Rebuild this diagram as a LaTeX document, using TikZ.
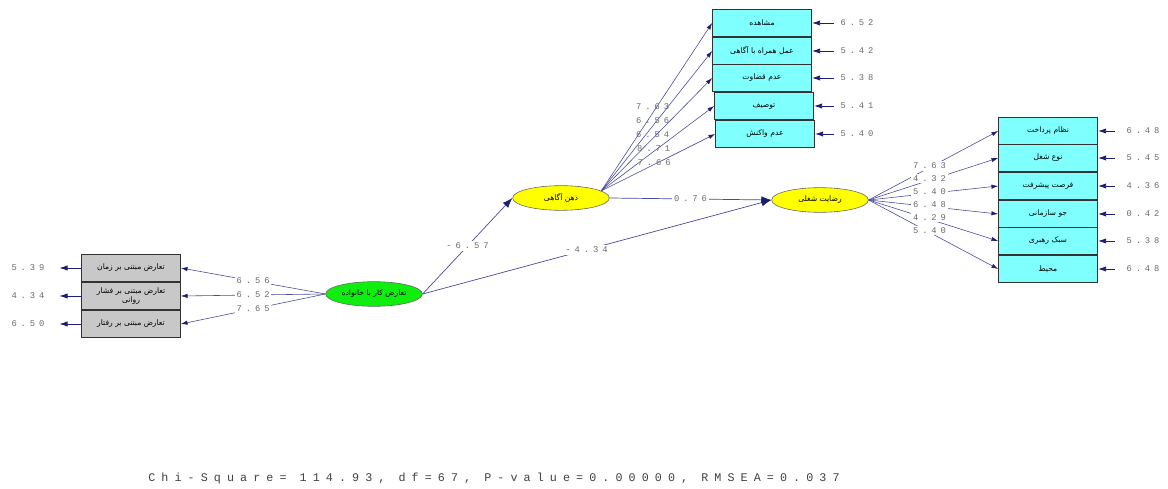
\documentclass[tikz,border=0pt]{standalone}
\usepackage{fontspec}
\usetikzlibrary{arrows.meta, shapes.geometric}
\TeXXeTstate=1
\newfontfamily\farsi[Script=Arabic]{DejaVu Sans}
\newfontfamily\lisrel[LetterSpace=45]{Liberation Mono}
\newfontfamily\lisrelwide[LetterSpace=52]{Liberation Mono}
\definecolor{pathblue}{HTML}{4A4A9C}
\definecolor{headblue}{HTML}{1E1E6E}
\definecolor{boxgray}{HTML}{C8C8C8}
\definecolor{boxcyan}{HTML}{80FFFF}
\definecolor{latgreen}{HTML}{10EE10}
\definecolor{latyellow}{HTML}{FFFF00}
\definecolor{numgray}{HTML}{6A6A6A}
\newcommand{\fatext}[1]{{\farsi\beginR #1\endR}}
\tikzset{
  obsbox/.style={draw=black!80, line width=0.6pt, minimum width=2.97cm, minimum height=0.83cm,
    inner sep=1pt, align=center, font=\fontsize{6.5}{8}\selectfont},
  latent/.style={ellipse, draw=black!60, line width=0.5pt, minimum width=2.9cm, minimum height=0.74cm,
    inner sep=0pt, font=\fontsize{6.5}{8}\selectfont},
  load/.style={-{Latex[length=2mm, width=1.3mm, color=headblue]}, line width=0.5pt, color=pathblue},
  struct/.style={-{Latex[length=3mm, width=2.2mm, color=headblue]}, line width=0.6pt, color=pathblue},
  err/.style={-{Latex[length=2.5mm, width=1.6mm, color=headblue]}, line width=0.8pt, color=headblue},
  num/.style={font=\lisrel\fontsize{7.5}{9}\selectfont, text=numgray, inner sep=1pt},
  est/.style={num, fill=white, inner sep=1.5pt}
}
\begin{document}
\begin{tikzpicture}[x=0.03cm, y=-0.03cm]
\useasboundingbox (0,0) rectangle (1168,489);
% latent variables
\node[latent, fill=latgreen] (wfc) at (374,294) {\fatext{تعارض کار با خانواده}};
\node[latent, fill=latyellow] (mind) at (561,198) {\fatext{ذهن آگاهی}};
\node[latent, fill=latyellow] (sat) at (820,200) {\fatext{رضایت شغلی}};
% work-family conflict indicators
\foreach \i/\y/\txt/\ld/\er in {1/268/{\fatext{تعارض مبتنی بر زمان}}/6.56/5.39,
  2/296/{\fatext{تعارض مبتنی بر فشار}\\\fatext{روانی}}/6.52/4.34,
  3/324/{\fatext{تعارض مبتنی بر رفتار}}/7.65/6.50} {
  \node[obsbox, fill=boxgray] (x\i) at (131,\y) {\txt};
  \node[num] (ex\i) at (28,\y) {\er};
  \draw[err, shorten >=0.4cm] (x\i) -- (ex\i);
  \draw[load] (wfc.west) -- node[est] {\ld} (x\i.east);
}
% mindfulness indicators
\foreach \i/\xc/\y/\txt/\ld/\er in {1/762/23/{\fatext{مشاهده}}/7.63/6.52,
  2/762/51/{\fatext{عمل همراه با آگاهی}}/6.56/5.42,
  3/762/78/{\fatext{عدم قضاوت}}/6.54/5.38,
  4/764/106/{\fatext{توصیف}}/8.71/5.41,
  5/765/134/{\fatext{عدم واکنش}}/7.66/5.40} {
  \node[obsbox, fill=boxcyan] (m\i) at (\xc,\y) {\txt};
  \node[num] (em\i) at (857,\y) {\er};
  \draw[err, shorten <=0.15cm] (em\i) -- (m\i);
  \draw[load] (mind.10) -- node[num, xshift=-0.12cm] {\ld} (m\i.west);
}
% job satisfaction indicators
\foreach \i/\y/\txt/\ld/\er in {1/131/{\fatext{نظام پرداخت}}/7.63/6.48,
  2/158/{\fatext{نوع شغل}}/4.32/5.45,
  3/186/{\fatext{فرصت پیشرفت}}/5.40/4.36,
  4/214/{\fatext{جو سازمانی}}/6.48/0.42,
  5/241/{\fatext{سبک رهبری}}/4.29/5.38,
  6/269/{\fatext{محیط}}/5.40/6.48} {
  \node[obsbox, fill=boxcyan] (s\i) at (1048,\y) {\txt};
  \node[num] (es\i) at (1143,\y) {\er};
  \draw[err, shorten <=0.3cm] (es\i) -- (s\i);
  \draw[load] (sat.east) -- node[est, pos=.47, yshift=0.05cm] {\ld} (s\i.west);
}
% structural paths
\draw[struct] (wfc.east) -- node[est] {-6.57} (mind.west);
\draw[struct] (wfc.east) -- node[est, pos=.47] {-4.34} (sat.west);
\draw[struct] (mind.east) -- node[est] {0.76} (sat.west);
\node[font=\lisrelwide\fontsize{10}{12}\selectfont, text=black!75] (fit) at (494,478)
  {Chi-Square= 114.93, df=67, P-value=0.00000, RMSEA=0.037};
\end{tikzpicture}
\end{document}
